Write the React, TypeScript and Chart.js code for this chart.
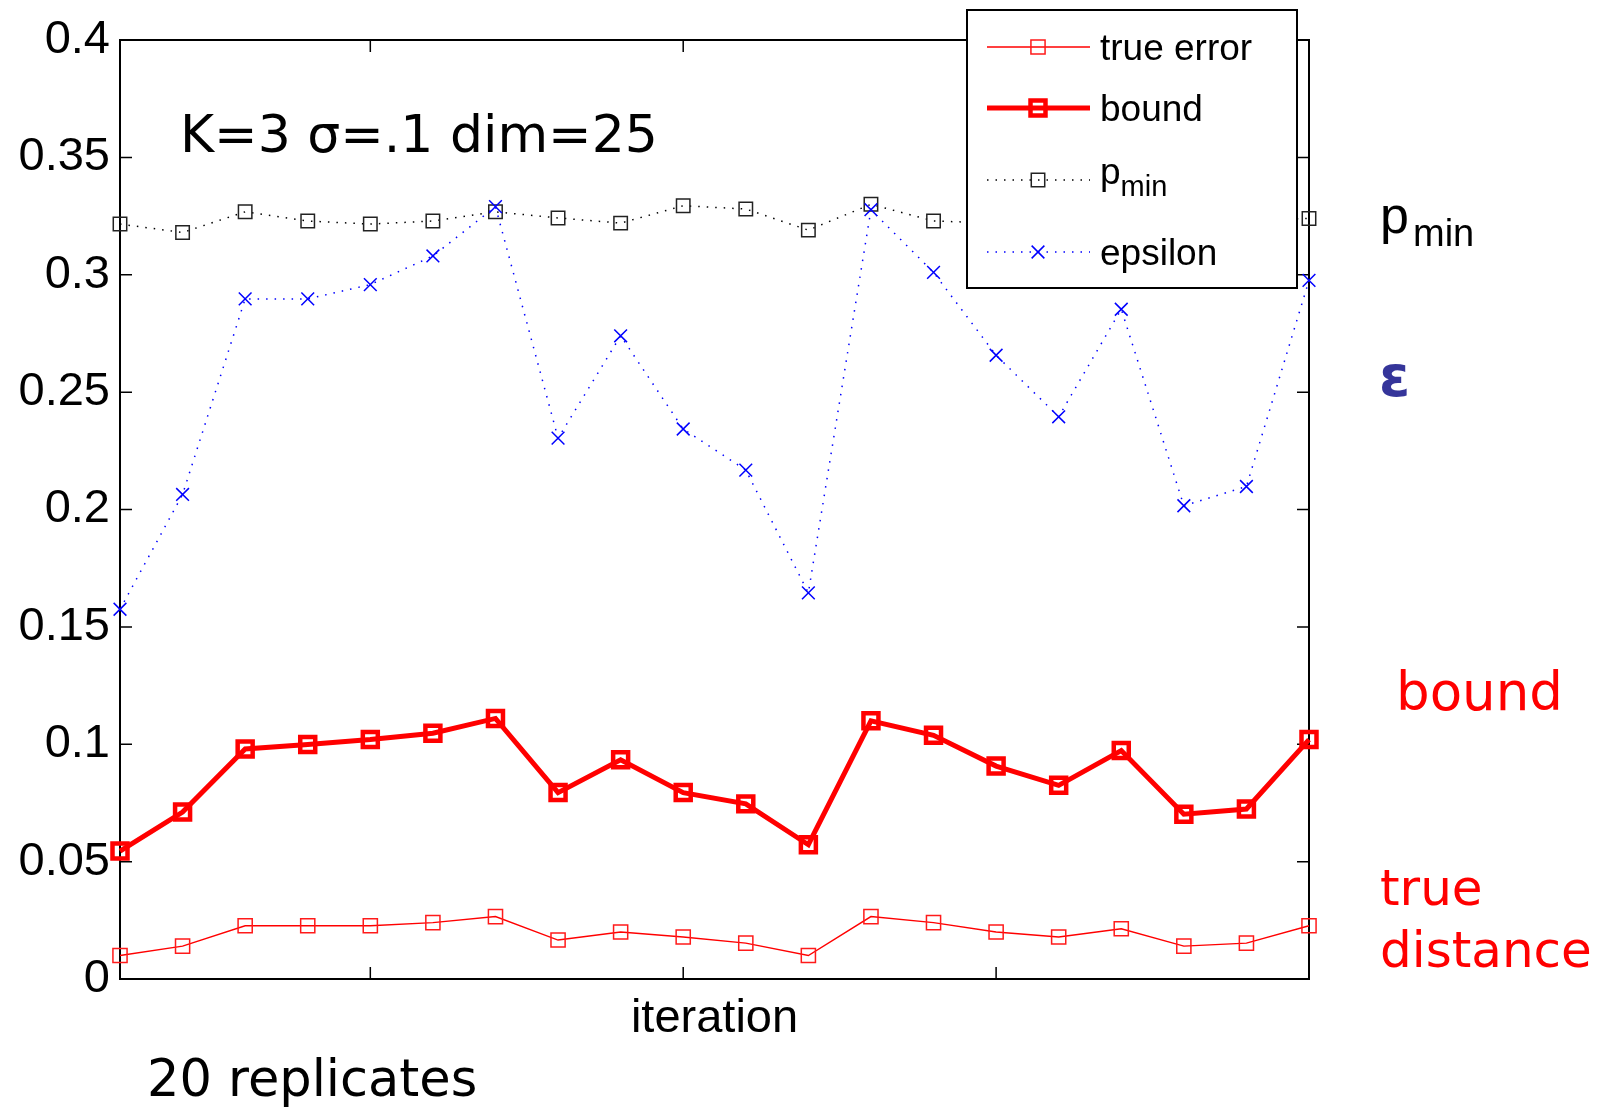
import React, { useEffect, useRef } from "react";
import { Chart, registerables } from "chart.js";

Chart.register(...registerables);

// ---------- data ----------
const iterations = [1, 2, 3, 4, 5, 6, 7, 8, 9, 10, 11, 12, 13, 14, 15, 16, 17, 18, 19, 20];
const trueError = [0.010, 0.014, 0.0227, 0.0227, 0.0227, 0.024, 0.0266, 0.0166, 0.020, 0.0179,
  0.0153, 0.010, 0.0266, 0.024, 0.020, 0.0179, 0.0214, 0.014, 0.0153, 0.0227];
const boundValues = [0.0545, 0.0711, 0.098, 0.0999, 0.102, 0.1047, 0.111, 0.0794, 0.0934, 0.0794,
  0.0746, 0.0572, 0.110, 0.1038, 0.0907, 0.0825, 0.0973, 0.0702, 0.0724, 0.102];
const pMin = [0.3216, 0.318, 0.3268, 0.3229, 0.3216, 0.3229, 0.3268, 0.3242, 0.322, 0.3294,
  0.328, 0.319, 0.330, 0.3229, 0.322, 0.325, 0.321, 0.326, 0.323, 0.324];
const epsilon = [0.1575, 0.2064, 0.2897, 0.2897, 0.2958, 0.308, 0.329, 0.2304, 0.274, 0.2343,
  0.2168, 0.1645, 0.3277, 0.301, 0.2657, 0.2395, 0.2853, 0.2016, 0.2098, 0.2976];

const seriesLabels = ["true error", "bound", "p", "epsilon"];
const seriesSubscripts = ["", "", "min", ""];
const yTickValues = [0, 0.05, 0.1, 0.15, 0.2, 0.25, 0.3, 0.35, 0.4];
const yTickLabels = ["0", "0.05", "0.1", "0.15", "0.2", "0.25", "0.3", "0.35", "0.4"];
const xTickValues = [5, 10, 15];
const xAxisTitle = "iteration";
const paramText = "K=3 \u03c3=.1 dim=25";
const replicatesText = "20 replicates";
const sideLabelPmin = "p";
const sideLabelPminSub = "min";
const sideLabelEps = "\u03b5";
const sideLabelBound = "bound";
const sideLabelTrue = ["true", "distance"];

const HELV = "'Liberation Sans', Arial, sans-serif";
const HUMAN = "'DejaVu Sans', sans-serif";

// ---------- plugins ----------
const framePlugin = {
  id: "matlabFrame",
  beforeDatasetsDraw(chart: any) {
    const { ctx, chartArea } = chart;
    const { left, right, top, bottom } = chartArea;
    const x = chart.scales.x;
    const y = chart.scales.y;
    ctx.save();
    ctx.strokeStyle = "#000";
    ctx.lineWidth = 1.5;
    const tl = 12;
    ctx.beginPath();
    y.ticks.forEach((t: any) => {
      const py = y.getPixelForValue(t.value);
      ctx.moveTo(left, py);
      ctx.lineTo(left + tl, py);
      ctx.moveTo(right, py);
      ctx.lineTo(right - tl, py);
    });
    x.ticks.forEach((t: any) => {
      const px = x.getPixelForValue(t.value);
      ctx.moveTo(px, bottom);
      ctx.lineTo(px, bottom - tl);
      ctx.moveTo(px, top);
      ctx.lineTo(px, top + tl);
    });
    ctx.stroke();
    ctx.lineWidth = 2;
    ctx.strokeRect(left, top, right - left, bottom - top);
    ctx.restore();
  },
};

function drawMarker(ctx: CanvasRenderingContext2D, ds: any, cx: number, cy: number) {
  const r = ds.pointRadius;
  ctx.save();
  ctx.setLineDash([]);
  ctx.strokeStyle = ds.pointBorderColor;
  ctx.lineWidth = ds.pointBorderWidth;
  ctx.beginPath();
  if (ds.pointStyle === "rect") {
    const s = r * Math.SQRT1_2;
    ctx.rect(cx - s, cy - s, 2 * s, 2 * s);
  } else {
    const o = r * Math.SQRT1_2;
    ctx.moveTo(cx - o, cy - o);
    ctx.lineTo(cx + o, cy + o);
    ctx.moveTo(cx - o, cy + o);
    ctx.lineTo(cx + o, cy - o);
  }
  ctx.stroke();
  ctx.restore();
}

const legendPlugin = {
  id: "matlabLegend",
  afterDraw(chart: any) {
    const { ctx } = chart;
    const bx = 967, by = 10, bw = 330, bh = 278;
    const rows = [47, 108, 180, 252];
    ctx.save();
    ctx.fillStyle = "#fff";
    ctx.fillRect(bx, by, bw, bh);
    ctx.strokeStyle = "#000";
    ctx.lineWidth = 2;
    ctx.strokeRect(bx, by, bw, bh);
    chart.data.datasets.forEach((ds: any, i: number) => {
      const cy = rows[i];
      ctx.save();
      ctx.strokeStyle = ds.borderColor;
      ctx.lineWidth = ds.borderWidth;
      ctx.setLineDash(ds.borderDash || []);
      ctx.beginPath();
      ctx.moveTo(987, cy);
      ctx.lineTo(1090, cy);
      ctx.stroke();
      ctx.restore();
      drawMarker(ctx, ds, 1038, cy);
      ctx.fillStyle = "#000";
      ctx.textAlign = "left";
      ctx.textBaseline = "alphabetic";
      ctx.font = `37px ${HELV}`;
      const sub = seriesSubscripts[i];
      if (sub) {
        ctx.fillText(ds.label, 1100, cy + 4);
        const w = ctx.measureText(ds.label).width;
        ctx.font = `29px ${HELV}`;
        ctx.fillText(sub, 1100 + w, cy + 16);
      } else {
        ctx.fillText(ds.label, 1100, cy + 13);
      }
    });
    ctx.restore();
  },
};

const annotationPlugin = {
  id: "annotations",
  afterDraw(chart: any) {
    const { ctx } = chart;
    ctx.save();
    ctx.textAlign = "left";
    ctx.textBaseline = "alphabetic";
    ctx.fillStyle = "#000";
    ctx.font = `52px ${HUMAN}`;
    ctx.fillText(paramText, 180, 152);
    ctx.font = `51px ${HUMAN}`;
    ctx.fillText(replicatesText, 147, 1096);
    // right side labels
    ctx.font = `52px ${HELV}`;
    ctx.fillText(sideLabelPmin, 1380, 233);
    ctx.font = `38px ${HELV}`;
    ctx.fillText(sideLabelPminSub, 1413, 246);
    ctx.fillStyle = "#35359a";
    ctx.font = `bold 56px ${HUMAN}`;
    ctx.fillText(sideLabelEps, 1379, 396);
    ctx.fillStyle = "#ff0000";
    ctx.font = `53px ${HUMAN}`;
    ctx.fillText(sideLabelBound, 1396, 710);
    ctx.font = `50px ${HUMAN}`;
    ctx.fillText(sideLabelTrue[0], 1380, 905);
    ctx.fillText(sideLabelTrue[1], 1380, 967);
    ctx.restore();
  },
};

export default function App() {
  const canvasRef = useRef<HTMLCanvasElement | null>(null);

  useEffect(() => {
    if (!canvasRef.current) return;
    const toPts = (vals: number[]) => vals.map((v, i) => ({ x: iterations[i], y: v }));
    const chart = new Chart(canvasRef.current, {
      type: "line",
      data: {
        datasets: [
          {
            label: seriesLabels[0],
            data: toPts(trueError),
            borderColor: "#ff0000",
            borderWidth: 1.4,
            pointStyle: "rect",
            pointRadius: 10,
            pointBorderColor: "#ff1a1a",
            pointBorderWidth: 1.5,
            pointBackgroundColor: "rgba(0,0,0,0)",
            order: 4,
            clip: false,
          } as any,
          {
            label: seriesLabels[1],
            data: toPts(boundValues),
            borderColor: "#ff0000",
            borderWidth: 5,
            pointStyle: "rect",
            pointRadius: 10.6,
            pointBorderColor: "#ff0000",
            pointBorderWidth: 4.5,
            pointBackgroundColor: "rgba(0,0,0,0)",
            order: 3,
            clip: false,
          } as any,
          {
            label: seriesLabels[2],
            data: toPts(pMin),
            borderColor: "#000000",
            borderWidth: 1.5,
            borderDash: [1.5, 7],
            pointStyle: "rect",
            pointRadius: 9.5,
            pointBorderColor: "#222222",
            pointBorderWidth: 1.5,
            pointBackgroundColor: "rgba(0,0,0,0)",
            order: 2,
            clip: false,
          } as any,
          {
            label: seriesLabels[3],
            data: toPts(epsilon),
            borderColor: "#0000ff",
            borderWidth: 1.5,
            borderDash: [1.5, 7],
            pointStyle: "crossRot",
            pointRadius: 9,
            pointBorderColor: "#0000ff",
            pointBorderWidth: 1.5,
            pointBackgroundColor: "rgba(0,0,0,0)",
            order: 1,
            clip: false,
          } as any,
        ],
      },
      options: {
        responsive: false,
        animation: false,
        devicePixelRatio: 1,
        layout: { padding: { left: 0, right: 296, top: 40, bottom: 0 } },
        plugins: {
          legend: { display: false },
          tooltip: { enabled: false },
        },
        elements: { line: { tension: 0 } },
        scales: {
          x: {
            type: "linear",
            min: 1,
            max: 20,
            afterBuildTicks: (scale: any) => {
              scale.ticks = xTickValues.map((v) => ({ value: v }));
            },
            afterFit: (scale: any) => {
              scale.height = 128;
            },
            ticks: { display: false },
            grid: { display: false, drawTicks: false },
            border: { display: false },
            title: {
              display: true,
              text: xAxisTitle,
              color: "#000",
              font: { family: HELV, size: 47 },
              padding: { top: 0, bottom: 60 },
            },
          },
          y: {
            type: "linear",
            min: 0,
            max: 0.4,
            afterBuildTicks: (scale: any) => {
              scale.ticks = yTickValues.map((v) => ({ value: v }));
            },
            afterFit: (scale: any) => {
              scale.width = 120;
            },
            ticks: {
              color: "#000",
              padding: 10,
              font: { family: HELV, size: 47 },
              callback: (_v: any, i: number) => yTickLabels[i],
            },
            grid: { display: false, drawTicks: false },
            border: { display: false },
          },
        },
      } as any,
      plugins: [framePlugin, legendPlugin, annotationPlugin],
    });
    return () => chart.destroy();
  }, []);

  return (
    <div style={{ position: "fixed", left: 0, top: 0, width: 1605, height: 1107, background: "#fff" }}>
      <canvas ref={canvasRef} width={1605} height={1107} style={{ display: "block" }} />
    </div>
  );
}
